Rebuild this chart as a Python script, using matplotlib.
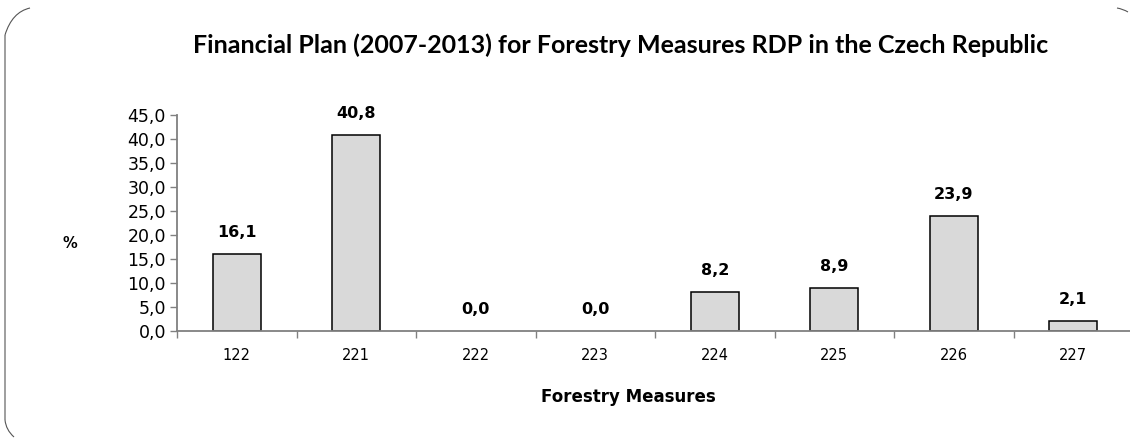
import matplotlib
matplotlib.use("Agg")
import matplotlib.pyplot as plt
from matplotlib.path import Path
from matplotlib.patches import PathPatch

# Data
measures = ["122", "221", "222", "223", "224", "225", "226", "227"]
shares = [16.1, 40.8, 0.0, 0.0, 8.2, 8.9, 23.9, 2.1]
y_ticks = [0, 5, 10, 15, 20, 25, 30, 35, 40, 45]

W, H = 1130, 438
fig = plt.figure(figsize=(W / 100, H / 100), dpi=100)
plt.rcParams["font.family"] = "DejaVu Sans"

# axes in pixel coords: left 177, right 1133, bottom 331, top 115
ax = fig.add_axes([177 / W, (H - 331) / H, (1133 - 177) / W, (331 - 115) / H])

x = list(range(len(measures)))
# zero-height bars leave no visible outline in the original
edges = ["black" if v > 0 else "none" for v in shares]
ax.bar(x, shares, width=0.4, color="#d9d9d9", edgecolor=edges, linewidth=1.1, zorder=2)

for xi, v in zip(x, shares):
    ax.annotate(f"{v:.1f}".replace(".", ","), (xi, v), xytext=(0, 10),
                textcoords="offset points", ha="center", va="bottom",
                fontsize=11.5, fontweight="bold")

ax.set_xlim(-0.5, len(measures) - 0.5)
ax.set_ylim(0, 45)
ax.set_yticks(y_ticks)
ax.set_yticklabels([f"{t:.1f}".replace(".", ",") for t in y_ticks], fontsize=12.5)
ax.set_xticks(x)
ax.set_xticklabels(measures, fontsize=10.5)
ax.tick_params(axis="x", length=0, pad=12)
ax.set_xticks([i - 0.5 for i in range(len(measures) + 1)], minor=True)
ax.tick_params(axis="x", which="minor", length=5, color="#808080", width=1)
ax.tick_params(axis="y", length=5, color="#808080", width=1, pad=3)

for side in ["top", "right"]:
    ax.spines[side].set_visible(False)
for side in ["left", "bottom"]:
    ax.spines[side].set_color("#808080")
    ax.spines[side].set_linewidth(1.3)

fig.text(70 / W, 1 - 243 / H, "%", ha="center", va="center",
         fontsize=10.5, fontweight="bold")
fig.text(628 / W, 1 - 397 / H, "Forestry Measures", ha="center", va="center",
         fontsize=12, fontweight="bold")
fig.text(621 / W, 1 - 45 / H,
         "Financial Plan (2007-2013) for Forestry Measures RDP in the Czech Republic",
         ha="center", va="center", fontsize=18, fontweight="bold", family="Lato")

# partial rounded frame around the chart
def px(xp, yp):
    return (xp / W, 1 - yp / H)

verts = [px(30, 8), px(12, 12), px(5, 35), px(5, 35), px(5, 420), px(5, 420),
         px(6, 430), px(14, 437)]
codes = [Path.MOVETO, Path.CURVE3, Path.CURVE3, Path.MOVETO, Path.LINETO,
         Path.MOVETO, Path.CURVE3, Path.CURVE3]
fig.patches.append(PathPatch(Path(verts, codes), transform=fig.transFigure,
                             fill=False, edgecolor="#555555", linewidth=0.8))
corner = Path([px(1117, 8), px(1123, 9), px(1128, 12)],
              [Path.MOVETO, Path.CURVE3, Path.CURVE3])
fig.patches.append(PathPatch(corner, transform=fig.transFigure,
                             fill=False, edgecolor="#555555", linewidth=0.8))

fig.savefig("out.png", dpi=100)
